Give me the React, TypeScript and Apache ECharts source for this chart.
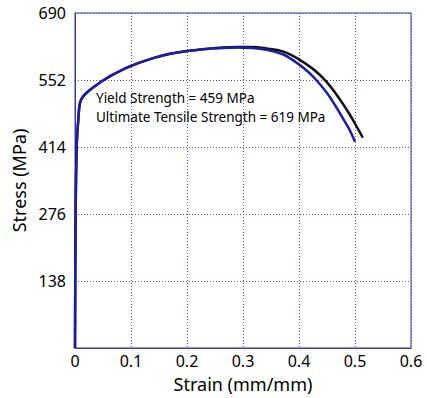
import React, { useEffect, useRef } from "react";
import * as echarts from "echarts";

const blueStrain = [0, 0.001, 0.003, 0.006, 0.009, 0.015, 0.027, 0.045, 0.063, 0.098, 0.134, 0.17, 0.217, 0.264, 0.29, 0.315, 0.342, 0.371, 0.385, 0.41, 0.43, 0.45, 0.465, 0.48, 0.49, 0.5];
const blueStress = [0, 250, 414, 472, 505, 519, 532, 547, 560, 580, 595, 606, 614, 618, 619, 618, 614, 605, 596, 575, 553, 525, 499, 470, 450, 425];

const blackStrain = [0, 0.001, 0.003, 0.006, 0.009, 0.015, 0.027, 0.045, 0.063, 0.098, 0.134, 0.17, 0.217, 0.264, 0.29, 0.315, 0.342, 0.371, 0.39, 0.41, 0.43, 0.45, 0.47, 0.49, 0.505, 0.514];
const blackStress = [0, 250, 414, 472, 505, 519, 532, 547, 560, 580, 595, 606, 614, 619, 620, 620, 617, 611, 601, 587, 570, 547, 517, 482, 452, 433];

const yTicks = [0, 138, 276, 414, 552, 690];
const xTicks = [0, 0.1, 0.2, 0.3, 0.4, 0.5, 0.6];

const annotations = ["Yield Strength = 459 MPa", "Ultimate Tensile Strength = 619 MPa"];

const FONT = "Noto Sans";

export default function App() {
  const ref = useRef<HTMLDivElement>(null);
  useEffect(() => {
    if (!ref.current) return;
    const chart = echarts.init(ref.current, null, { renderer: "svg" });
    const pair = (xs: number[], ys: number[]) => xs.map((x, i) => [x, ys[i]]);
    chart.setOption({
      animation: false,
      backgroundColor: "#ffffff",
      grid: {
        left: 75,
        right: 16,
        top: 13,
        bottom: 50,
        show: true,
        borderColor: "#3a3a9c",
        borderWidth: 1,
        containLabel: false,
        outerBoundsMode: "none",
      },
      xAxis: {
        type: "value",
        min: xTicks[0],
        max: xTicks[xTicks.length - 1],
        interval: 0.1,
        name: "Strain (mm/mm)",
        nameLocation: "middle",
        nameGap: 27,
        nameTextStyle: { fontFamily: FONT, fontSize: 18, color: "#000" },
        axisLine: { show: true, lineStyle: { color: "#3a3a9c", width: 1 } },
        axisTick: { show: false },
        axisLabel: {
          fontFamily: FONT,
          fontSize: 16,
          color: "#000",
          margin: 5,
          formatter: (v: number) => String(Math.round(v * 10) / 10),
        },
        splitLine: { show: true, lineStyle: { color: "#5555aa", type: [1, 2], width: 1 } },
      },
      yAxis: {
        type: "value",
        min: yTicks[0],
        max: yTicks[yTicks.length - 1],
        interval: 138,
        name: "Stress (MPa)",
        nameLocation: "middle",
        nameGap: 45,
        nameTextStyle: { fontFamily: FONT, fontSize: 18, color: "#000" },
        axisLine: { show: true, lineStyle: { color: "#3a3a9c", width: 1 } },
        axisTick: { show: false },
        axisLabel: {
          fontFamily: FONT,
          fontSize: 16,
          color: "#000",
          margin: 9,
          formatter: (v: number) => (v === 0 ? "" : String(v)),
        },
        splitLine: { show: true, lineStyle: { color: "#5555aa", type: [1, 2], width: 1 } },
      },
      series: [
        {
          type: "line",
          data: pair(blackStrain, blackStress),
          showSymbol: false,
          smooth: 0.4,
          lineStyle: { color: "#111111", width: 2.5 },
          z: 2,
        },
        {
          type: "line",
          data: pair(blueStrain, blueStress),
          showSymbol: false,
          smooth: 0.4,
          lineStyle: { color: "#1c1caa", width: 2.5 },
          z: 3,
        },
      ],
      graphic: [
        {
          type: "text",
          left: 96,
          top: 88,
          style: {
            text: annotations.join("\n"),
            fontFamily: FONT,
            fontSize: 13.5,
            lineHeight: 19,
            fill: "#000",
          },
          z: 10,
        },
      ],
    });
    return () => chart.dispose();
  }, []);
  return <div ref={ref} style={{ width: 427, height: 398, position: "absolute", left: 0, top: 0 }} />;
}
